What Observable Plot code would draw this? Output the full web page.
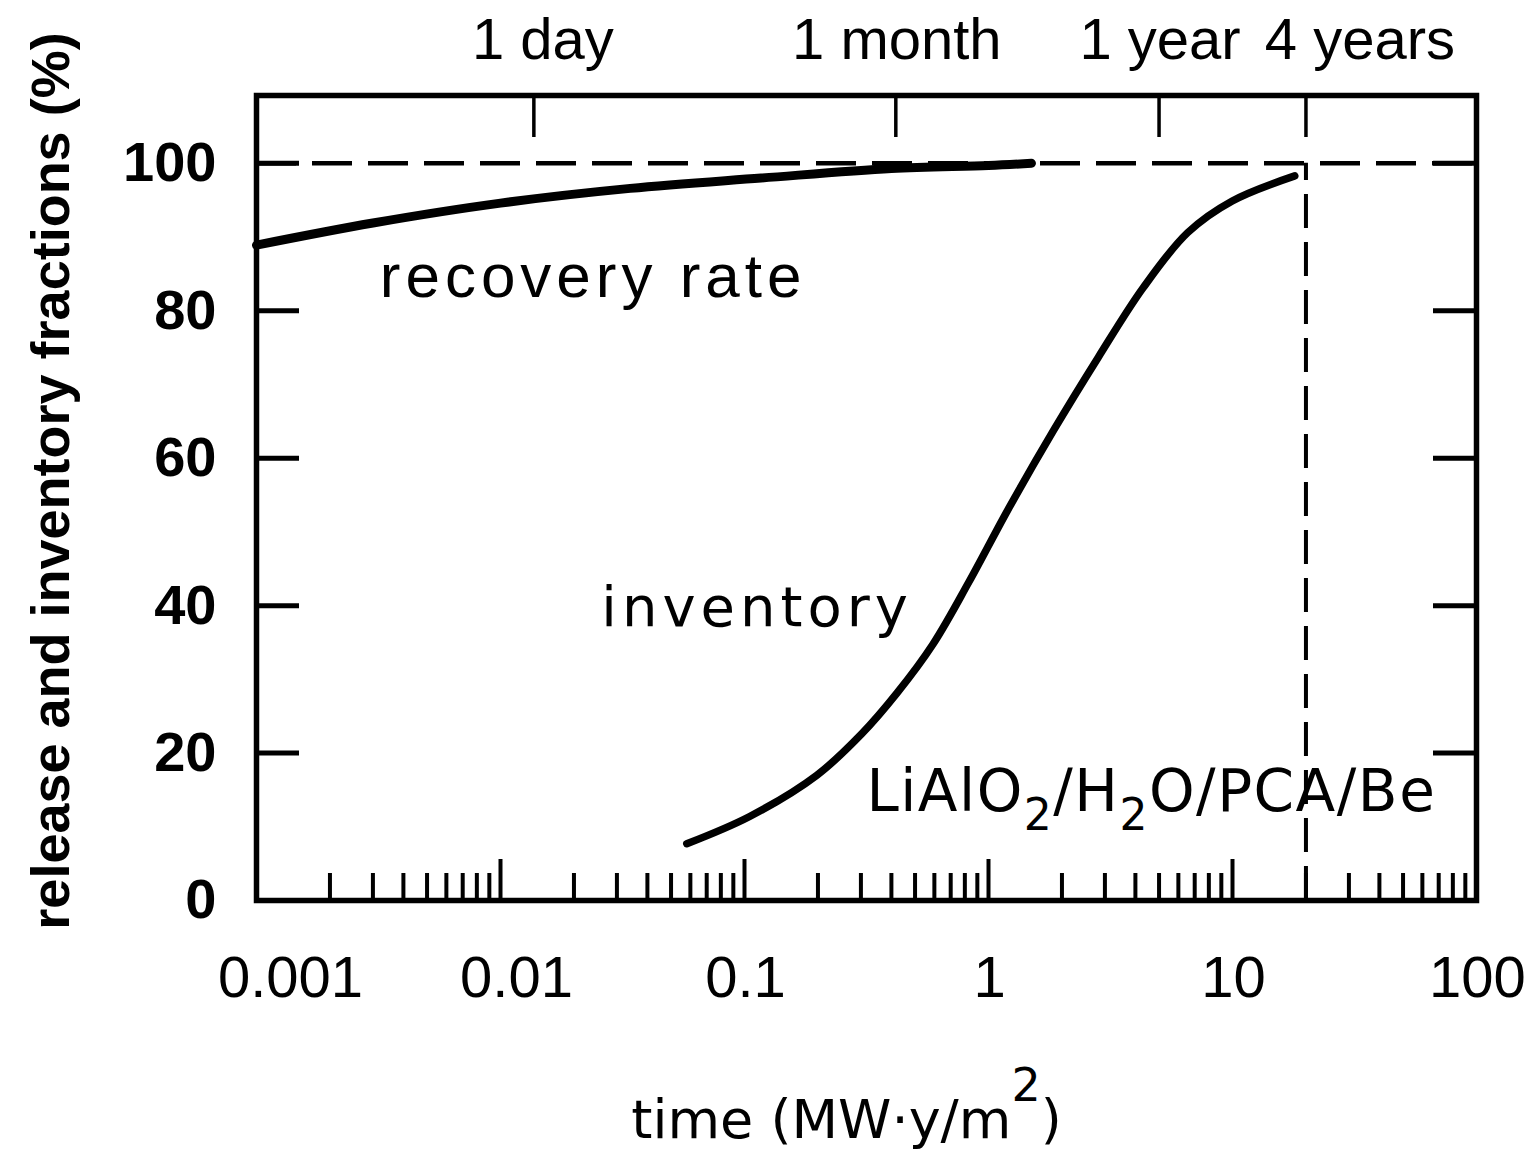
<!DOCTYPE html>
<html><head><meta charset="utf-8">
<script src="https://cdn.jsdelivr.net/npm/d3@7"></script>
<script src="https://cdn.jsdelivr.net/npm/@observablehq/plot@0.6"></script>
<style>html,body{margin:0;padding:0;background:#fff;overflow:hidden}</style>
</head><body><div id="chart"></div>
<script>
// ---- data ----
const recoveryTime = [0.001, 0.003, 0.01, 0.034, 0.117, 0.40, 1.0, 1.5];
const recoveryFraction = [88.9, 91.9, 94.6, 96.6, 98.0, 99.3, 99.7, 100.0];
const inventoryTime = [0.058, 0.105, 0.198, 0.302, 0.423, 0.593, 0.831, 1.21, 1.85, 2.82, 4.30, 6.55, 9.98, 18.0];
const inventoryFraction = [7.7, 11.4, 17.0, 22.6, 28.2, 34.8, 43.2, 53.2, 63.8, 73.7, 83.1, 90.6, 94.9, 98.3];

const xTickValues = [0.001, 0.01, 0.1, 1, 10, 100];
const xTickLabels = ["0.001", "0.01", "0.1", "1", "10", "100"];
const yTickValues = [0, 20, 40, 60, 80, 100];
const topTickTimes = [0.0137, 0.417, 5, 20];
const topTickLabels = ["1 day", "1 month", "1 year", "4 years"];
const fullRecovery = 100;
const fourYears = 20;

const annotationText = ["recovery rate", "inventory", "LiAlO2/H2O/PCA/Be"];
const annotationTime = [0.0032, 0.0259, 0.316];
const annotationFraction = [81.8, 37.3, 12.2];

const xTitle = "time (MW·y/m2)";
const yTitle = "release and inventory fractions (%)";

// ---- build tables ----
const recovery = recoveryTime.map((t, i) => ({t, v: recoveryFraction[i]}));
const inventory = inventoryTime.map((t, i) => ({t, v: inventoryFraction[i]}));
const annotations = annotationText.map((text, i) => ({text, t: annotationTime[i], v: annotationFraction[i]}));
const decades = xTickValues.slice(0, -1);
const xMinor = decades.flatMap(d => [2,3,4,5,6,7,8,9].map(k => k * d));
const xMajorInner = xTickValues.slice(1, -1);
const xLabel = d => xTickLabels[xTickValues.indexOf(d)];
const topTicks = topTickTimes.map((t, i) => ({t, label: topTickLabels[i]}));

const W = 1529, H = 1152, mL = 256, mR = 53, mT = 95, mB = 252;
const plotW = W - mL - mR, plotH = H - mT - mB;
const regular = "'Liberation Sans', Arial, sans-serif";
const round = "'DejaVu Sans', sans-serif";

const topText = (rows, dx) => Plot.text(rows, {x: "t", text: "label", frameAnchor: "top", lineAnchor: "bottom", dy: -37, dx, fontSize: 58, fontFamily: regular, fill: "black"});

const plot = Plot.plot({
  width: W, height: H,
  marginLeft: mL, marginRight: mR, marginTop: mT, marginBottom: mB,
  style: {background: "white", color: "black", fontFamily: regular},
  x: {type: "log", domain: [0.001, 100], axis: null, label: null},
  y: {domain: [0, 109.2], axis: null, label: null},
  marks: [
    Plot.ruleY([fullRecovery], {stroke: "black", strokeWidth: 4.5, strokeDasharray: "40,16"}),
    Plot.ruleX([fourYears], {y1: 0, y2: fullRecovery, stroke: "black", strokeWidth: 4, strokeDasharray: "34,14"}),
    Plot.tickX(xMinor, {x: d => d, insetTop: plotH - 27, stroke: "black", strokeWidth: 4}),
    Plot.tickX(xMajorInner, {x: d => d, insetTop: plotH - 41, stroke: "black", strokeWidth: 4}),
    Plot.tickY(yTickValues, {y: d => d, insetRight: plotW - 43, stroke: "black", strokeWidth: 5}),
    Plot.tickY(yTickValues, {y: d => d, insetLeft: plotW - 43, stroke: "black", strokeWidth: 5}),
    Plot.tickX(topTickTimes, {x: d => d, insetBottom: plotH - 42, stroke: "black", strokeWidth: 3.5}),
    Plot.frame({stroke: "black", strokeWidth: 5.5}),
    Plot.line(recovery, {x: "t", y: "v", curve: "catmull-rom", stroke: "black", strokeWidth: 9, strokeLinecap: "round"}),
    Plot.line(inventory, {x: "t", y: "v", curve: "catmull-rom", stroke: "black", strokeWidth: 7.5, strokeLinecap: "round"}),
    // y tick labels
    Plot.axisY(yTickValues, {anchor: "left", tickSize: 0, tickPadding: 40, fontSize: 56, fontWeight: "bold", fontFamily: regular, tickFormat: d => String(d)}),
    // bottom tick labels
    Plot.axisX([xTickValues[0]], {anchor: "bottom", tickSize: 0, tickPadding: 55, fontSize: 58, fontFamily: regular, dx: 34, tickFormat: xLabel}),
    Plot.axisX([xTickValues[1]], {anchor: "bottom", tickSize: 0, tickPadding: 55, fontSize: 58, fontFamily: regular, dx: 16, tickFormat: xLabel}),
    Plot.axisX(xTickValues.slice(2), {anchor: "bottom", tickSize: 0, tickPadding: 55, fontSize: 58, fontFamily: regular, dx: 1, tickFormat: xLabel}),
    // top tick labels
    topText(topTicks.slice(0, 1), 9),
    topText(topTicks.slice(1, 3), 1),
    topText(topTicks.slice(3), 54),
    // annotations
    Plot.text(annotations.slice(0, 1), {x: "t", y: "v", text: "text", textAnchor: "start", lineAnchor: "bottom", fontSize: 62, fontFamily: regular, fill: "black"}),
    Plot.text(annotations.slice(1, 2), {x: "t", y: "v", text: "text", textAnchor: "start", lineAnchor: "bottom", fontSize: 56, fontFamily: round, fill: "black"}),
    Plot.text(annotations.slice(2, 3), {x: "t", y: "v", text: "text", textAnchor: "start", lineAnchor: "bottom", fontSize: 58, fontFamily: round, fill: "black"}),
    // axis titles
    Plot.text([xTitle], {text: d => d, frameAnchor: "bottom", lineAnchor: "bottom", textAnchor: "middle", dx: -20, dy: 237, fontSize: 54, fontFamily: round, fill: "black"}),
    Plot.text([yTitle], {text: d => d, frameAnchor: "left", rotate: -90, lineAnchor: "bottom", textAnchor: "middle", dx: -188, dy: -17, fontSize: 54, fontWeight: "bold", fontFamily: regular, fill: "black"})
  ]
});
document.getElementById("chart").appendChild(plot);

// ---- typographic touches: letter spacing, sub/superscripts ----
const svg = d3.select(plot);
const byText = s => svg.selectAll("text").filter(function() { return this.textContent === s; });
byText(annotationText[0]).attr("letter-spacing", 5);
byText(annotationText[1]).attr("letter-spacing", 5);
byText(annotationText[2]).attr("letter-spacing", 1.5).each(function() {
  const t = d3.select(this);
  t.text(null);
  t.append("tspan").text("LiAlO");
  t.append("tspan").attr("dy", 19).attr("font-size", 44).text("2");
  t.append("tspan").attr("dy", -19).text("/H");
  t.append("tspan").attr("dy", 19).attr("font-size", 44).text("2");
  t.append("tspan").attr("dy", -19).text("O/PCA/Be");
});
byText(xTitle).each(function() {
  const t = d3.select(this);
  t.text(null);
  t.append("tspan").text("time (MW·y/m");
  t.append("tspan").attr("dy", -37).attr("font-size", 46).text("2");
  t.append("tspan").attr("dy", 37).text(")");
});
</script>
</body></html>
